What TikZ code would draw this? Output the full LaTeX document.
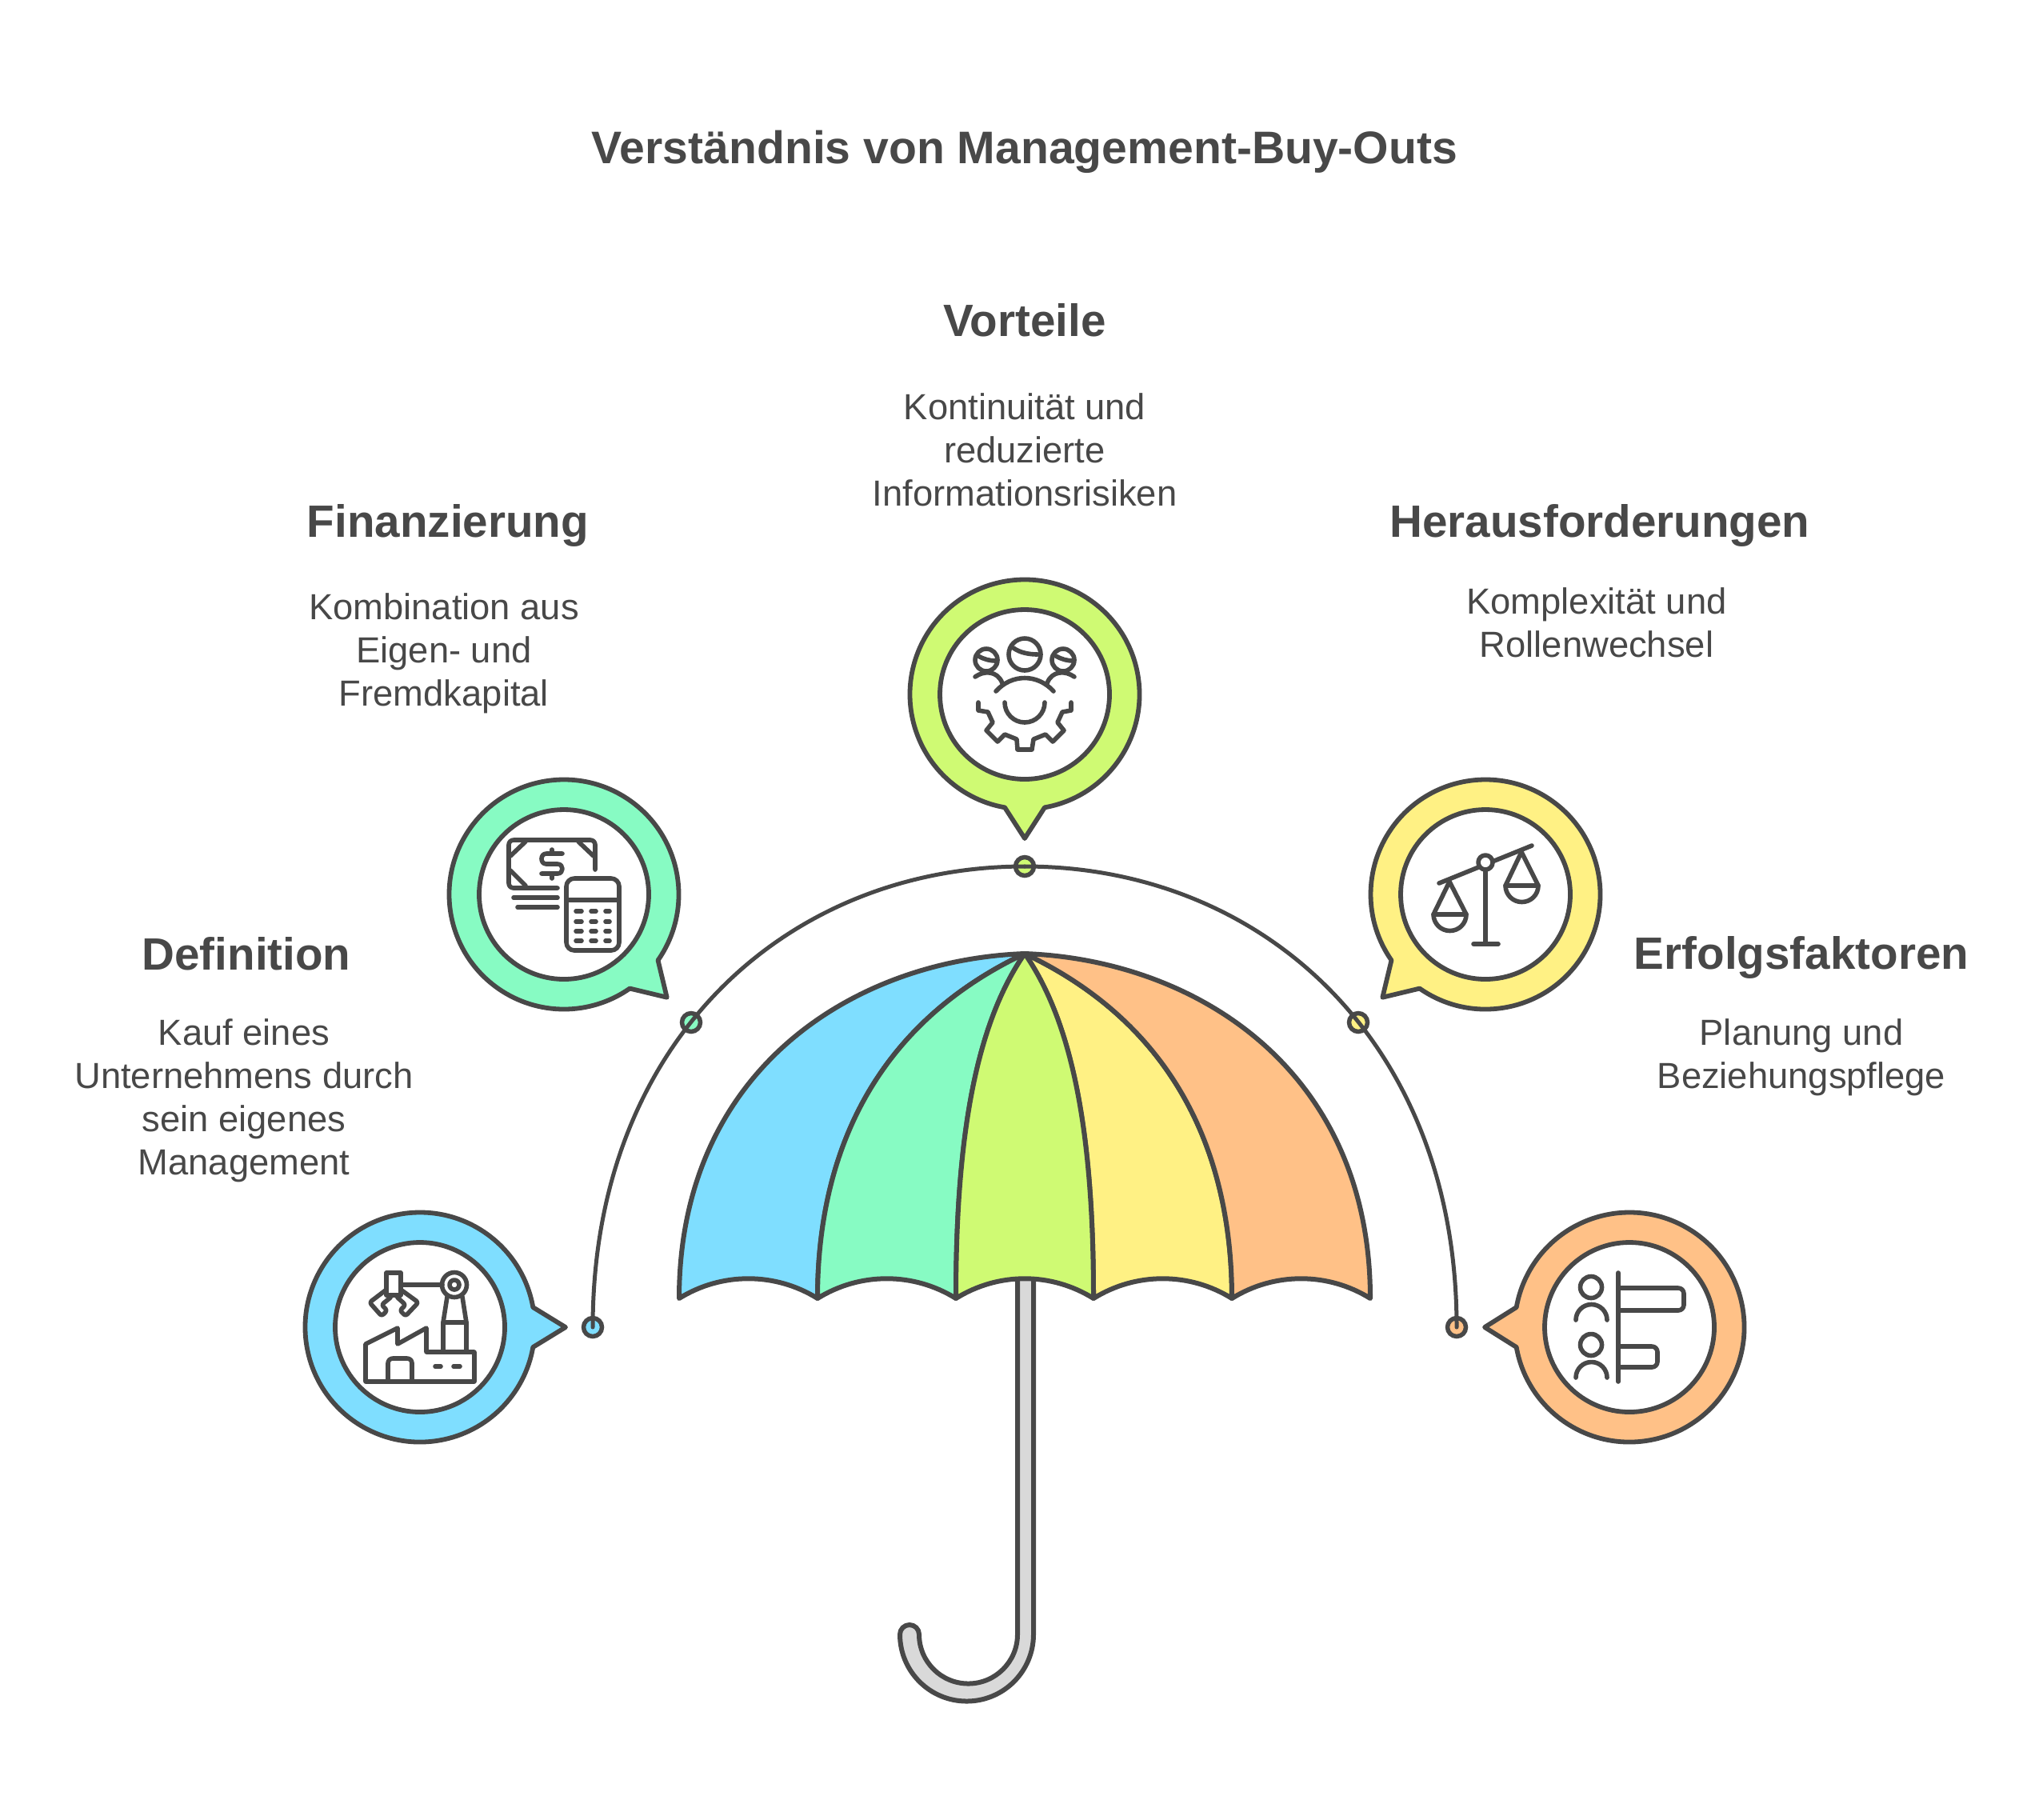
\documentclass[tikz,border=0pt]{standalone}
\usepackage{xcolor}
\usepackage{fontspec}
\setmainfont{Liberation Sans}
\usetikzlibrary{calc}
\definecolor{inkgray}{HTML}{484848}
\definecolor{capblue}{HTML}{7FDEFF}
\definecolor{capgreen}{HTML}{87FBC3}
\definecolor{caplime}{HTML}{CFFA73}
\definecolor{capyellow}{HTML}{FFF184}
\definecolor{caporange}{HTML}{FFC187}
\definecolor{handlegray}{HTML}{D9D9D9}
\tikzset{
    panel/.style={draw=inkgray, line width=0.06cm, line join=round},
    bubble/.style={draw=inkgray, line width=0.058cm, line join=round},
    iconring/.style={circle, draw=inkgray, fill=white, line width=0.058cm, minimum size=2.12cm, inner sep=0pt},
    dot/.style={circle, draw=inkgray, line width=0.055cm, minimum size=0.23cm, inner sep=0pt},
    arcline/.style={draw=inkgray, line width=0.05cm, line cap=round},
    icon/.style={draw=inkgray, line width=0.056cm, line cap=round, line join=round},
    titletext/.style={text=inkgray, font=\fontsize{16.25}{20}\selectfont\bfseries},
    headtext/.style={text=inkgray, font=\fontsize{16.1}{20}\selectfont\bfseries},
    bodytext/.style={text=inkgray, align=center, font=\fontsize{12.9}{15.37}\selectfont}
}
\begin{document}
\begin{tikzpicture}
    \useasboundingbox (0,0) rectangle (25.44,-22.74);

    % Title
    \node[titletext] (title) at (12.81,-1.9) {Verständnis von Management-Buy-Outs};

    % Handle
    \draw[panel, fill=handlegray] (12.72,-15.9) -- (12.72,-20.43) arc[start angle=0, end angle=-180, radius=0.615]
        arc[start angle=0, end angle=180, radius=0.12] arc[start angle=180, end angle=360, radius=0.835]
        -- (12.92,-15.9) -- cycle;

    % Canopy
    \draw[panel, fill=capblue] (8.49,-16.23) .. controls (8.49,-13.39) and (10.65,-12.0) .. (12.81,-11.92)
        .. controls (10.95,-12.8) and (10.22,-14.4) .. (10.22,-16.23)
        .. controls (9.69,-15.9) and (9.02,-15.9) .. cycle;
    \draw[panel, fill=capgreen] (10.22,-16.23) .. controls (10.22,-14.4) and (10.95,-12.8) .. (12.81,-11.92)
        .. controls (12.2,-12.8) and (11.95,-14.2) .. (11.95,-16.23)
        .. controls (11.42,-15.9) and (10.75,-15.9) .. cycle;
    \draw[panel, fill=capyellow] (13.67,-16.23) .. controls (13.67,-14.2) and (13.42,-12.8) .. (12.81,-11.92)
        .. controls (14.67,-12.8) and (15.40,-14.4) .. (15.40,-16.23)
        .. controls (14.87,-15.9) and (14.2,-15.9) .. cycle;
    \draw[panel, fill=caporange] (15.40,-16.23) .. controls (15.40,-14.4) and (14.67,-12.8) .. (12.81,-11.92)
        .. controls (14.97,-12.0) and (17.13,-13.39) .. (17.13,-16.23)
        .. controls (16.6,-15.9) and (15.93,-15.9) .. cycle;
    \draw[panel, fill=caplime] (11.95,-16.23) .. controls (11.95,-14.2) and (12.2,-12.8) .. (12.81,-11.92)
        .. controls (13.42,-12.8) and (13.67,-14.2) .. (13.67,-16.23)
        .. controls (13.14,-15.9) and (12.48,-15.9) .. cycle;

    % Dots on the big arc
    \node[dot, fill=capblue] (dotdef) at (7.41,-16.59) {};
    \node[dot, fill=capgreen] (dotfin) at (8.64,-12.78) {};
    \node[dot, fill=caplime] (dotvor) at (12.81,-10.83) {};
    \node[dot, fill=capyellow] (dother) at (16.98,-12.78) {};
    \node[dot, fill=caporange] (doterf) at (18.21,-16.59) {};
    \draw[arcline] (dotdef.center) .. controls (7.41,-13.02) and (9.84,-10.83) .. (dotvor.center);
    \draw[arcline] (dotvor.center) .. controls (15.78,-10.83) and (18.21,-13.02) .. (doterf.center);

    % Bubbles
    \coordinate (cdef) at (5.25,-16.59);
    \coordinate (cfin) at (7.05,-11.18);
    \coordinate (cvor) at (12.81,-8.68);
    \coordinate (cher) at (18.57,-11.18);
    \coordinate (cerf) at (20.37,-16.59);
    \draw[bubble, fill=capblue] ($(cdef)+(0:1.82)$) -- ($(cdef)+(10:1.435)$) arc[start angle=10, end angle=350, radius=1.435] -- cycle;
    \draw[bubble, fill=capgreen] ($(cfin)+(-45:1.82)$) -- ($(cfin)+(-35:1.435)$) arc[start angle=-35, end angle=305, radius=1.435] -- cycle;
    \draw[bubble, fill=caplime] ($(cvor)+(-90:1.80)$) -- ($(cvor)+(-80:1.435)$) arc[start angle=-80, end angle=260, radius=1.435] -- cycle;
    \draw[bubble, fill=capyellow] ($(cher)+(-135:1.82)$) -- ($(cher)+(-125:1.435)$) arc[start angle=-125, end angle=215, radius=1.435] -- cycle;
    \draw[bubble, fill=caporange] ($(cerf)+(180:1.81)$) -- ($(cerf)+(190:1.435)$) arc[start angle=190, end angle=530, radius=1.435] -- cycle;
    \node[iconring] (ringdef) at (cdef) {};
    \node[iconring] (ringfin) at (cfin) {};
    \node[iconring] (ringvor) at (cvor) {};
    \node[iconring] (ringher) at (cher) {};
    \node[iconring] (ringerf) at (cerf) {};

    % Factory icon
    \draw[icon] (4.83,-15.91) rectangle (5.01,-16.19);
    \draw[icon] (5.01,-16.06) -- (5.53,-16.06);
    \draw[icon] (5.68,-16.06) circle (0.155);
    \draw[icon] (5.68,-16.06) circle (0.06);
    \draw[icon] (5.59,-16.21) -- (5.54,-16.53) -- (5.54,-16.9);
    \draw[icon] (5.78,-16.21) -- (5.83,-16.53) -- (5.83,-16.9);
    \draw[icon] (5.54,-16.53) -- (5.83,-16.53);
    \draw[icon, rounded corners=0.03cm] (4.83,-16.12) -- (4.62,-16.28) -- (4.77,-16.45) -- (4.84,-16.38) -- (4.77,-16.31) -- (4.88,-16.22);
    \draw[icon, rounded corners=0.03cm] (5.01,-16.12) -- (5.23,-16.28) -- (5.07,-16.45) -- (5.0,-16.38) -- (5.07,-16.31) -- (4.97,-16.22);
    \draw[icon] (4.57,-17.27) -- (4.57,-16.8) -- (4.97,-16.6) -- (4.97,-16.8) -- (5.33,-16.6) -- (5.33,-16.9) -- (5.93,-16.9) -- (5.93,-17.27) -- cycle;
    \draw[icon, rounded corners=0.06cm] (4.85,-17.27) -- (4.85,-16.98) -- (5.15,-16.98) -- (5.15,-17.27);
    \draw[icon] (5.44,-17.08) -- (5.51,-17.08);
    \draw[icon] (5.67,-17.08) -- (5.75,-17.08);

    % Money and calculator icon
    \draw[icon, rounded corners=0.06cm] (7.44,-10.87) -- (7.44,-10.5) -- (6.36,-10.5) -- (6.36,-11.1) -- (6.97,-11.1);
    \draw[icon] (6.57,-10.52) -- (6.38,-10.7);
    \draw[icon] (7.23,-10.52) -- (7.42,-10.7);
    \draw[icon] (6.38,-10.88) -- (6.57,-11.07);
    \draw[icon] (6.42,-11.22) -- (6.97,-11.22);
    \draw[icon] (6.47,-11.34) -- (6.97,-11.34);
    \draw[icon] (7.03,-10.67) -- (6.83,-10.67) .. controls (6.75,-10.67) and (6.75,-10.8) .. (6.83,-10.8)
        -- (6.97,-10.8) .. controls (7.05,-10.8) and (7.05,-10.92) .. (6.97,-10.92) -- (6.77,-10.92);
    \draw[icon] (6.9,-10.62) -- (6.9,-10.67);
    \draw[icon] (6.9,-10.92) -- (6.9,-10.98);
    \draw[icon, rounded corners=0.1cm] (7.08,-10.98) rectangle (7.74,-11.88);
    \draw[icon] (7.08,-11.25) -- (7.74,-11.25);
    \draw[icon] (7.2,-11.39) -- (7.27,-11.39) (7.39,-11.39) -- (7.45,-11.39) (7.57,-11.39) -- (7.62,-11.39);
    \draw[icon] (7.2,-11.52) -- (7.27,-11.52) (7.39,-11.52) -- (7.45,-11.52) (7.57,-11.52) -- (7.62,-11.52);
    \draw[icon] (7.2,-11.64) -- (7.27,-11.64) (7.39,-11.64) -- (7.45,-11.64) (7.57,-11.64) -- (7.62,-11.64);
    \draw[icon] (7.2,-11.76) -- (7.27,-11.76) (7.39,-11.76) -- (7.45,-11.76) (7.57,-11.76) -- (7.62,-11.76);

    % People and gear icon
    \draw[icon] (12.81,-8.18) circle (0.2);
    \draw[icon] (12.67,-8.1) .. controls (12.75,-8.16) and (12.87,-8.18) .. (12.97,-8.18);
    \draw[icon] (12.33,-8.25) circle (0.14);
    \draw[icon] (12.23,-8.2) .. controls (12.3,-8.24) and (12.37,-8.26) .. (12.45,-8.26);
    \draw[icon] (13.29,-8.25) circle (0.14);
    \draw[icon] (13.2,-8.2) .. controls (13.27,-8.24) and (13.34,-8.26) .. (13.42,-8.26);
    \draw[icon] (12.19,-8.46) .. controls (12.3,-8.38) and (12.47,-8.38) .. (12.53,-8.54);
    \draw[icon] (13.43,-8.46) .. controls (13.32,-8.38) and (13.15,-8.38) .. (13.09,-8.54);
    \draw[icon] (12.45,-8.64) .. controls (12.65,-8.42) and (12.97,-8.42) .. (13.17,-8.64);
    \draw[icon] (12.23,-8.78) -- (12.23,-8.88) -- (12.35,-8.9) -- (12.41,-9.03) -- (12.33,-9.13) -- (12.47,-9.27) -- (12.56,-9.18) -- (12.71,-9.24) -- (12.72,-9.37)
        -- (12.9,-9.37) -- (12.92,-9.24) -- (13.07,-9.18) -- (13.16,-9.27) -- (13.3,-9.13) -- (13.22,-9.03) -- (13.28,-8.9) -- (13.39,-8.88) -- (13.39,-8.78);
    \draw[icon] (13.06,-8.78) arc[start angle=0, end angle=-180, radius=0.25];

    % Scales icon
    \draw[icon] (17.99,-11.04) -- (19.15,-10.57);
    \draw[icon, fill=white] (18.57,-10.78) circle (0.09);
    \draw[icon] (18.57,-10.87) -- (18.57,-11.8);
    \draw[icon] (18.42,-11.8) -- (18.73,-11.8);
    \draw[icon] (17.92,-11.43) -- (18.12,-11.02) -- (18.33,-11.43);
    \draw[icon] (17.92,-11.43) -- (18.33,-11.43) arc[start angle=0, end angle=-180, radius=0.205];
    \draw[icon] (18.82,-11.07) -- (19.02,-10.65) -- (19.23,-11.07);
    \draw[icon] (18.82,-11.07) -- (19.23,-11.07) arc[start angle=0, end angle=-180, radius=0.205];

    % Ranking icon
    \draw[icon] (20.23,-15.91) -- (20.23,-17.27);
    \draw[icon, rounded corners=0.07cm] (20.25,-16.1) -- (21.05,-16.1) -- (21.05,-16.38) -- (20.25,-16.38);
    \draw[icon, rounded corners=0.07cm] (20.25,-16.83) -- (20.72,-16.83) -- (20.72,-17.09) -- (20.25,-17.09);
    \draw[icon] (19.89,-16.09) circle (0.135);
    \draw[icon] (20.09,-16.5) arc[start angle=0, end angle=180, radius=0.195];
    \draw[icon] (19.89,-16.81) circle (0.135);
    \draw[icon] (20.09,-17.22) arc[start angle=0, end angle=180, radius=0.195];

    % Texts
    \node[headtext] (headvor) at (12.81,-4.0) {Vorteile};
    \node[bodytext] (bodyvor) at (12.81,-5.62) {Kontinuität und\\reduzierte\\Informationsrisiken};
    \node[headtext] (headfin) at (5.6,-6.57) {Finanzierung};
    \node[bodytext] (bodyfin) at (5.55,-8.17) {Kombination aus\\Eigen- und\\Fremdkapital};
    \node[headtext] (headher) at (20.0,-6.57) {Herausforderungen};
    \node[bodytext] (bodyher) at (19.96,-7.78) {Komplexität und\\Rollenwechsel};
    \node[headtext] (headdef) at (3.08,-11.92) {Definition};
    \node[bodytext] (bodydef) at (3.05,-13.76) {Kauf eines\\Unternehmens durch\\sein eigenes\\Management};
    \node[headtext] (headerf) at (22.52,-11.97) {Erfolgsfaktoren};
    \node[bodytext] (bodyerf) at (22.52,-13.22) {Planung und\\Beziehungspflege};
\end{tikzpicture}
\end{document}
